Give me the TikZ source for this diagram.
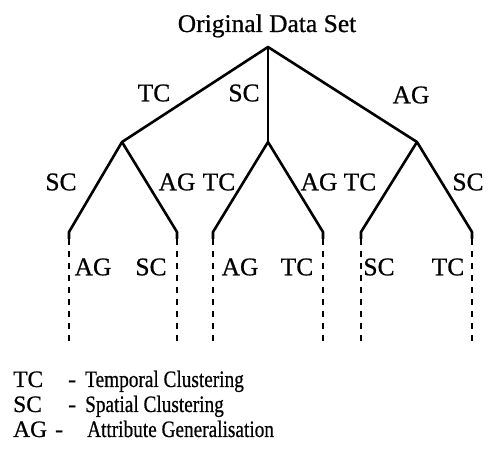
\documentclass[tikz,border=0pt]{standalone}
\usepackage{fontspec}
\setmainfont{Liberation Serif}
\newfontfamily\inkfont{Liberation Serif}[FakeBold=0.7]
\begin{document}
\begin{tikzpicture}[x=1pt,y=-1pt,
  branch/.style={line width=2.6pt, line join=round},
  trail/.style={line width=2.6pt, dash pattern=on 6pt off 6pt},
  lbl/.style={inner sep=0pt, font=\inkfont\fontsize{25.5}{30}\selectfont},
  keytext/.style={inner sep=0pt, anchor=base west, font=\inkfont\fontsize{23.5}{28}\selectfont}]
\useasboundingbox (0,0) rectangle (488,454);

% root
\node[lbl, anchor=base] (title) at (267,32) {Original Data Set};
\coordinate (r) at (268,47);
% first level
\coordinate (a) at (122,142);
\coordinate (b) at (268,142);
\coordinate (c) at (417,142);
% second level
\coordinate (a1) at (69,232);  \coordinate (a2) at (177,232);
\coordinate (b1) at (213,232); \coordinate (b2) at (323,232);
\coordinate (c1) at (361,232); \coordinate (c2) at (472,232);
\foreach \n in {a1,a2,b1,b2,c1,c2}{
  \path (\n) ++(0,7) coordinate (\n t);
  \path (\n) ++(0,112) coordinate (\n e);
}

\draw[branch] (a) -- (r) -- (c);
\draw[branch] (r) -- (b);
\draw[branch] (a1t) -- (a1) -- (a) -- (a2) -- (a2t);
\draw[branch] (b1t) -- (b1) -- (b) -- (b2) -- (b2t);
\draw[branch] (c1t) -- (c1) -- (c) -- (c2) -- (c2t);
\foreach \n in {a1,a2,b1,b2,c1,c2}{
  \draw[trail] (\n t) -- (\n e);
}

% edge labels
\node[lbl] (l1) at (154,93) {TC};
\node[lbl] (l2) at (244,93) {SC};
\node[lbl] (l3) at (411,95) {AG};
\node[lbl] (l4) at (61,182) {SC};
\node[lbl] (l5) at (177,182) {AG};
\node[lbl] (l6) at (219,182) {TC};
\node[lbl] (l7) at (319,182) {AG};
\node[lbl] (l8) at (360,182) {TC};
\node[lbl] (l9) at (468,182) {SC};
\node[lbl] (m1) at (93,267) {AG};
\node[lbl] (m2) at (151,267) {SC};
\node[lbl] (m3) at (240,267) {AG};
\node[lbl] (m4) at (297,267) {TC};
\node[lbl] (m5) at (379,267) {SC};
\node[lbl] (m6) at (448,267) {TC};

% key
\node[keytext] (k1) at (13,387) {TC};
\node[keytext] (k1d) at (68,387) {-};
\node[keytext] (k1t) at (85,387) {\scalebox{0.82}[1]{Temporal Clustering}};
\node[keytext] (k2) at (13,412) {SC};
\node[keytext] (k2d) at (68,412) {-};
\node[keytext] (k2t) at (85,412) {\scalebox{0.82}[1]{Spatial Clustering}};
\node[keytext] (k3) at (13,437) {AG};
\node[keytext] (k3d) at (55,437) {-};
\node[keytext] (k3t) at (87,437) {\scalebox{0.82}[1]{Attribute Generalisation}};
\end{tikzpicture}
\end{document}
